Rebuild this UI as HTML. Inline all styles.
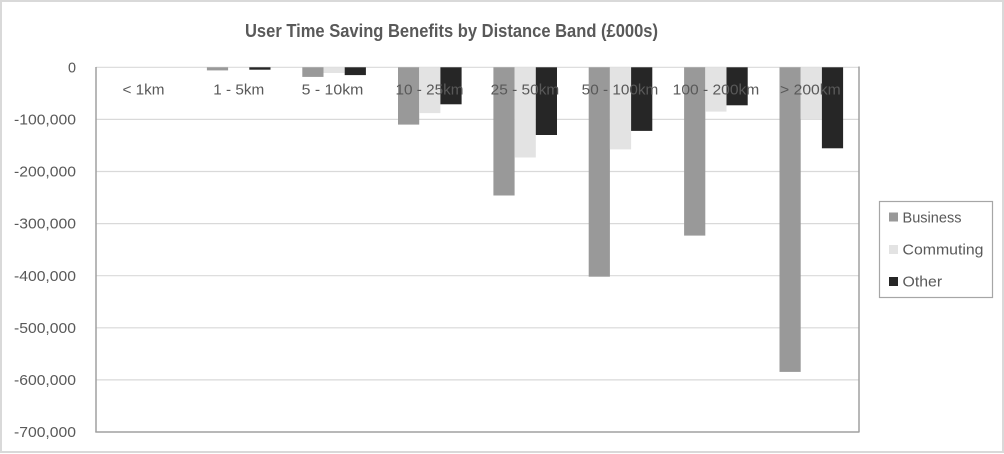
<!DOCTYPE html>
<html><head><meta charset="utf-8"><style>
html,body{margin:0;padding:0;background:#fff;}
svg{display:block;}
text{font-family:"Liberation Sans",Arial,sans-serif;fill:#595959;}
</style></head><body>
<svg width="1004" height="454" viewBox="0 0 1004 454" xmlns="http://www.w3.org/2000/svg">
<rect x="1" y="1" width="1002" height="451" fill="#fff" stroke="#d9d9d9" stroke-width="2"/>
<text x="451.5" y="37" font-size="18" font-weight="bold" text-anchor="middle" textLength="413" lengthAdjust="spacingAndGlyphs">User Time Saving Benefits by Distance Band (£000s)</text>
<!-- gridlines -->
<g stroke="#d9d9d9" stroke-width="1.2">
<line x1="96" y1="67.3" x2="859" y2="67.3"/>
<line x1="96" y1="119.4" x2="859" y2="119.4"/>
<line x1="96" y1="171.5" x2="859" y2="171.5"/>
<line x1="96" y1="223.6" x2="859" y2="223.6"/>
<line x1="96" y1="275.7" x2="859" y2="275.7"/>
<line x1="96" y1="327.8" x2="859" y2="327.8"/>
<line x1="96" y1="379.9" x2="859" y2="379.9"/>
</g>
<!-- bars -->
<g>
<!-- 1-5km -->
<rect x="206.9" y="67.3" width="21.2" height="3.1" fill="#999"/>
<rect x="228.1" y="67.3" width="21.2" height="0.6" fill="#e3e3e3"/>
<rect x="249.3" y="67.3" width="21.2" height="2.4" fill="#262626"/>
<!-- 5-10km -->
<rect x="302.3" y="67.3" width="21.2" height="9.6" fill="#999"/>
<rect x="323.5" y="67.3" width="21.2" height="5.7" fill="#e3e3e3"/>
<rect x="344.7" y="67.3" width="21.2" height="7.8" fill="#262626"/>
<!-- 10-25km -->
<rect x="398" y="67.3" width="21.2" height="57.3" fill="#999"/>
<rect x="419.2" y="67.3" width="21.2" height="45.8" fill="#e3e3e3"/>
<rect x="440.4" y="67.3" width="21.2" height="37" fill="#262626"/>
<!-- 25-50km -->
<rect x="493.4" y="67.3" width="21.2" height="128.2" fill="#999"/>
<rect x="514.6" y="67.3" width="21.2" height="90.2" fill="#e3e3e3"/>
<rect x="535.8" y="67.3" width="21.2" height="67.7" fill="#262626"/>
<!-- 50-100km -->
<rect x="588.7" y="67.3" width="21.2" height="209.4" fill="#999"/>
<rect x="609.9" y="67.3" width="21.2" height="82.1" fill="#e3e3e3"/>
<rect x="631.1" y="67.3" width="21.2" height="63.6" fill="#262626"/>
<!-- 100-200km -->
<rect x="684.1" y="67.3" width="21.2" height="168.3" fill="#999"/>
<rect x="705.3" y="67.3" width="21.2" height="44.3" fill="#e3e3e3"/>
<rect x="726.5" y="67.3" width="21.2" height="38" fill="#262626"/>
<!-- >200km -->
<rect x="779.5" y="67.3" width="21.2" height="304.6" fill="#999"/>
<rect x="800.7" y="67.3" width="21.2" height="52.1" fill="#e3e3e3"/>
<rect x="821.9" y="67.3" width="21.2" height="81" fill="#262626"/>
</g>
<!-- axes -->
<g stroke="#a0a0a0" stroke-width="1.5" fill="none">
<line x1="96" y1="67" x2="96" y2="432"/>
<line x1="95.3" y1="432" x2="859.5" y2="432"/>
<line x1="859" y1="66.5" x2="859" y2="432"/>
</g>
<!-- y labels -->
<g font-size="15" text-anchor="end">
<text x="76" y="72.5" textLength="8" lengthAdjust="spacingAndGlyphs">0</text>
<text x="76" y="124.5" textLength="62" lengthAdjust="spacingAndGlyphs">-100,000</text>
<text x="76" y="176.6" textLength="62" lengthAdjust="spacingAndGlyphs">-200,000</text>
<text x="76" y="228.7" textLength="62" lengthAdjust="spacingAndGlyphs">-300,000</text>
<text x="76" y="280.8" textLength="62" lengthAdjust="spacingAndGlyphs">-400,000</text>
<text x="76" y="332.9" textLength="62" lengthAdjust="spacingAndGlyphs">-500,000</text>
<text x="76" y="385" textLength="62" lengthAdjust="spacingAndGlyphs">-600,000</text>
<text x="76" y="437.1" textLength="62" lengthAdjust="spacingAndGlyphs">-700,000</text>
</g>
<!-- category labels -->
<g font-size="15" text-anchor="middle">
<text x="143.5" y="94.5" textLength="42" lengthAdjust="spacingAndGlyphs">&lt; 1km</text>
<text x="238.8" y="94.5" textLength="51" lengthAdjust="spacingAndGlyphs">1 - 5km</text>
<text x="332.5" y="94.5" textLength="61.7" lengthAdjust="spacingAndGlyphs">5 - 10km</text>
<text x="429.5" y="94.5" textLength="68" lengthAdjust="spacingAndGlyphs">10 - 25km</text>
<text x="525" y="94.5" textLength="68.6" lengthAdjust="spacingAndGlyphs">25 - 50km</text>
<text x="620" y="94.5" textLength="76.6" lengthAdjust="spacingAndGlyphs">50 - 100km</text>
<text x="716" y="94.5" textLength="86.6" lengthAdjust="spacingAndGlyphs">100 - 200km</text>
<text x="810.4" y="94.5" textLength="60.7" lengthAdjust="spacingAndGlyphs">&gt; 200km</text>
</g>
<!-- legend -->
<rect x="879.5" y="201.5" width="113" height="96" fill="#fff" stroke="#a6a6a6" stroke-width="1.2"/>
<rect x="889" y="212.5" width="9" height="9" fill="#999"/>
<rect x="889" y="245" width="9" height="9" fill="#e3e3e3"/>
<rect x="889" y="277" width="9" height="9" fill="#262626"/>
<g font-size="15">
<text x="902.5" y="222.5" textLength="59" lengthAdjust="spacingAndGlyphs">Business</text>
<text x="902.5" y="254.5" textLength="81" lengthAdjust="spacingAndGlyphs">Commuting</text>
<text x="902.5" y="286.5" textLength="39.6" lengthAdjust="spacingAndGlyphs">Other</text>
</g>
</svg>
</body></html>
